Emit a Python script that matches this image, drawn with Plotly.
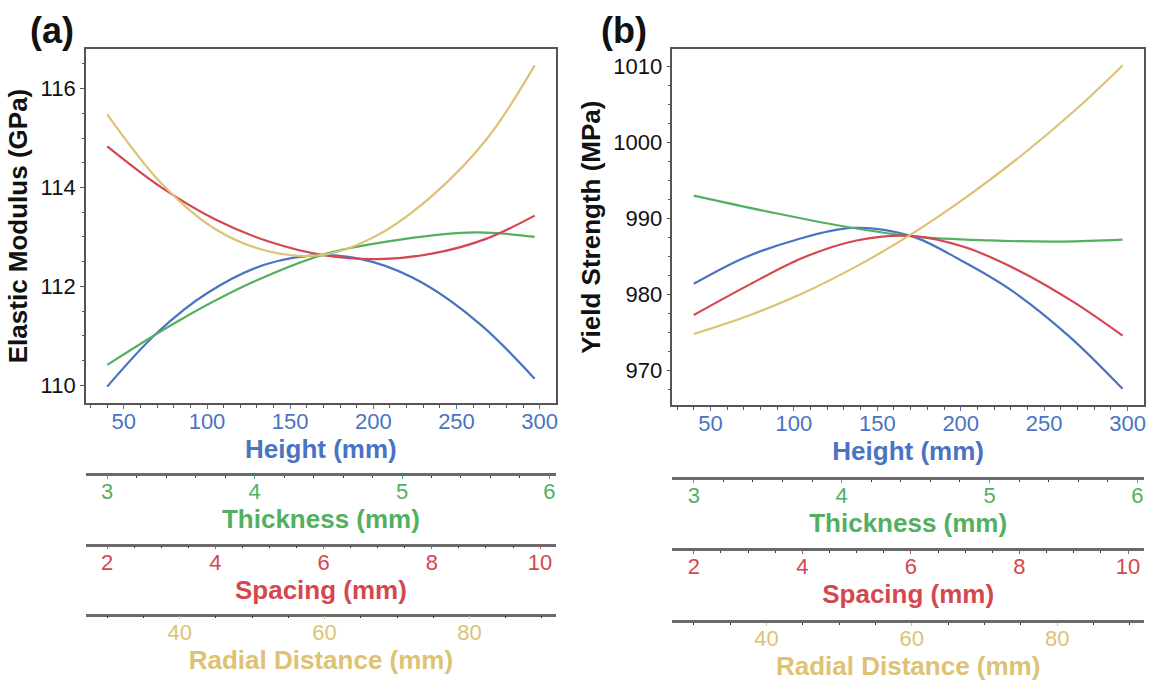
import plotly.graph_objects as go

# ---------------- data ----------------
height = [40, 70, 100, 135, 170, 200, 230, 265, 297]
thickness = [3.0, 3.5, 4.0, 4.5, 5.0, 5.5, 5.9]
spacing = [2, 3, 4, 5, 6, 7, 8, 9, 9.9]
radial = [30, 37.5, 45, 52.5, 60, 67.5, 75, 82.5, 89]

# (a) Elastic modulus (GPa)
modulus_height = [109.97, 111.06, 111.86, 112.44, 112.63, 112.49, 112.06, 111.21, 110.13]
modulus_thickness = [110.41, 111.33, 112.10, 112.67, 112.95, 113.09, 113.00]
modulus_spacing = [114.83, 114.00, 113.35, 112.90, 112.63, 112.55, 112.66, 112.96, 113.43]
modulus_radial = [115.48, 114.08, 113.15, 112.70, 112.64, 113.05, 113.85, 115.00, 116.47]

# (b) Yield strength (MPa)
yield_height = [981.4, 984.8, 987.1, 988.75, 987.7, 984.5, 980.6, 974.5, 967.6]
yield_thickness = [993.0, 990.9, 989.0, 987.6, 987.1, 986.95, 987.2]
yield_spacing = [977.3, 981.2, 984.8, 987.1, 987.7, 986.2, 983.1, 979.0, 974.6]
yield_radial = [974.8, 977.2, 980.16, 983.76, 987.96, 992.8, 998.2, 1004.24, 1010.1]

# tick values
height_ticks = [50, 100, 150, 200, 250, 300]
thickness_ticks = [3, 4, 5, 6]
spacing_ticks = [2, 4, 6, 8, 10]
radial_ticks = [40, 60, 80]
modulus_ticks = [110, 112, 114, 116]
yield_ticks = [970, 980, 990, 1000, 1010]

# ---------------- style ----------------
FONT = "Liberation Sans, Arial, Helvetica, sans-serif"
BLUE = "#4A73C2"
GREEN = "#52B060"
RED = "#D4474F"
YELLOW = "#DDC274"
FRAME = "#555555"
W, H = 1159, 681

fig = go.Figure()

def add_line(x, y, xa, ya, color):
    fig.add_trace(go.Scatter(x=x, y=y, xaxis=xa, yaxis=ya, mode="lines",
                             line=dict(color=color, width=2.2, shape="spline", smoothing=1.0),
                             showlegend=False, hoverinfo="x+y"))

# panel a
add_line(height, modulus_height, "x", "y", BLUE)
add_line(thickness, modulus_thickness, "x2", "y", GREEN)
add_line(spacing, modulus_spacing, "x3", "y", RED)
add_line(radial, modulus_radial, "x4", "y", YELLOW)
# panel b
add_line(height, yield_height, "x5", "y2", BLUE)
add_line(thickness, yield_thickness, "x6", "y2", GREEN)
add_line(spacing, yield_spacing, "x7", "y2", RED)
add_line(radial, yield_radial, "x8", "y2", YELLOW)

def pad_range(vals, frac=0.05):
    lo, hi = min(vals), max(vals)
    d = (hi - lo) * frac
    return [lo - d, hi + d]

tick_font = dict(family=FONT, size=22)
title_font = dict(family=FONT, size=26)

def main_x(domain, anchor, rng):
    return dict(domain=domain, anchor=anchor, range=rng,
                showline=True, linecolor=FRAME, linewidth=1.6, mirror=True,
                ticks="outside", ticklen=4, tickwidth=1.2, tickcolor=BLUE,
                tickvals=height_ticks, tickfont=dict(tick_font, color=BLUE),
                ticklabelstandoff=-6,
                minor=dict(dtick=10, tick0=0, ticks="outside", ticklen=3, tickcolor=FRAME, tickwidth=1),
                showgrid=False, zeroline=False,
                title=dict(text="<b>Height (mm)</b>", font=dict(title_font, color=BLUE), standoff=3))

def extra_x(over, pos, rng, ticks, minor_dt, minor_t0, color, title):
    return dict(overlaying=over, anchor="free", position=pos, side="bottom", range=rng,
                showline=True, linecolor="#6a6a6a", linewidth=2.6,
                ticks="outside", ticklen=3, tickwidth=1.2, tickcolor=color,
                tickvals=ticks, tickfont=dict(tick_font, color=color),
                ticklabelstandoff=-6,
                minor=dict(dtick=minor_dt, tick0=minor_t0, ticks="outside", ticklen=2, tickcolor="#333333", tickwidth=1),
                showgrid=False, zeroline=False,
                title=dict(text="<b>" + title + "</b>", font=dict(title_font, color=color), standoff=2))

def main_y(domain, anchor, rng, ticks, minor_dt, title):
    return dict(domain=domain, anchor=anchor, range=rng,
                showline=True, linecolor=FRAME, linewidth=1.6, mirror=True,
                ticks="outside", ticklen=4, tickwidth=1.2, tickcolor=FRAME,
                tickvals=ticks, tickfont=dict(tick_font, color="#111111"),
                minor=dict(dtick=minor_dt, tick0=0, ticks="outside", ticklen=2.5, tickcolor=FRAME, tickwidth=1),
                showgrid=False, zeroline=False,
                title=dict(text="<b>" + title + "</b>", font=dict(title_font, color="#111111"), standoff=5))

rng_h = pad_range(height)
rng_t = pad_range(thickness)
rng_s = pad_range(spacing)
rng_r = pad_range(radial)

dom_a = [86 / W, 557 / W]
dom_b = [673.5 / W, 1146 / W]
ydom_a = [1 - 402.7 / H, 1 - 49.3 / H]
ydom_b = [1 - 405 / H, 1 - 49.3 / H]

fig.update_layout(
    width=W, height=H,
    margin=dict(l=0, r=0, t=0, b=0),
    paper_bgcolor="white", plot_bgcolor="white",
    font=dict(family=FONT),
    xaxis=main_x(dom_a, "y", rng_h),
    xaxis2=extra_x("x", 1 - 473.7 / H, rng_t, thickness_ticks, 0.2, 0, GREEN, "Thickness (mm)"),
    xaxis3=extra_x("x", 1 - 544.5 / H, rng_s, spacing_ticks, 0.5, 0, RED, "Spacing (mm)"),
    xaxis4=extra_x("x", 1 - 614.5 / H, rng_r, radial_ticks, 5, 0, YELLOW, "Radial Distance (mm)"),
    yaxis=main_y(ydom_a, "x", pad_range(modulus_height + modulus_radial), modulus_ticks, 0.5, "Elastic Modulus (GPa)"),
    xaxis5=main_x(dom_b, "y2", rng_h),
    xaxis6=extra_x("x5", 1 - 477.7 / H, rng_t, thickness_ticks, 0.2, 0, GREEN, "Thickness (mm)"),
    xaxis7=extra_x("x5", 1 - 549 / H, rng_s, spacing_ticks, 0.5, 0, RED, "Spacing (mm)"),
    xaxis8=extra_x("x5", 1 - 621 / H, rng_r, radial_ticks, 5, 0, YELLOW, "Radial Distance (mm)"),
    yaxis2=main_y(ydom_b, "x5", pad_range(yield_height + yield_radial), yield_ticks, 2.5, "Yield Strength (MPa)"),
    annotations=[
        dict(text="<b>(a)</b>", x=52 / W, y=1 - 30.8 / H, xref="paper", yref="paper",
             showarrow=False, xanchor="center", yanchor="middle", font=dict(family=FONT, size=36, color="#111111")),
        dict(text="<b>(b)</b>", x=625 / W, y=1 - 30 / H, xref="paper", yref="paper",
             showarrow=False, xanchor="center", yanchor="middle", font=dict(family=FONT, size=36, color="#111111")),
    ],
)

fig.write_html("out.html")
